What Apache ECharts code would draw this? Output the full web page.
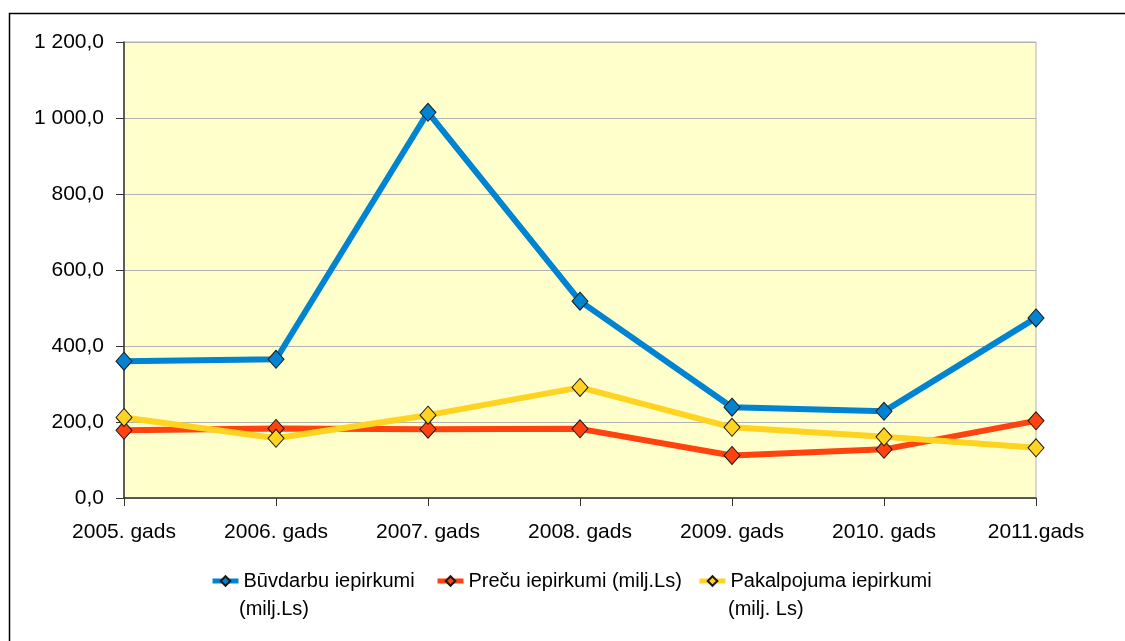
<!DOCTYPE html>
<html>
<head>
<meta charset="utf-8">
<script src="https://cdn.jsdelivr.net/npm/echarts@6/dist/echarts.min.js"></script>
<style>
  html, body { margin: 0; padding: 0; background: #fff; }
  #chart { width: 1125px; height: 641px; }
</style>
</head>
<body>
<div id="chart"></div>
<script>
// gadi
var categories = ['2005. gads', '2006. gads', '2007. gads', '2008. gads', '2009. gads', '2010. gads', '2011.gads']
var seriesNames = ['Būvdarbu iepirkumi', 'Preču iepirkumi (milj.Ls)', 'Pakalpojuma iepirkumi']
var buvdarbi = [360, 365, 1015, 518, 239, 228, 474]
var preces = [178, 183, 181, 182, 112, 128, 203]
var pakalpojumi = [212, 157, 218, 291, 186, 161, 132]
var yTicks = { min: 0, max: 1200, step: 200 }

var colors = ['#0084d1', '#ff420e', '#ffd320']
var font = 'Liberation Sans, Arial, sans-serif'

// 1 200,0
function fmt (v) {
  var s = v.toFixed(1).replace('.', ',')
  var parts = s.split(',')
  parts[0] = parts[0].replace(/\B(?=(\d{3})+(?!\d))/g, ' ')
  return parts.join(',')
}

function makeSeries (name, data, color) {
  return {
    name: name,
    type: 'line',
    data: data,
    symbol: 'diamond',
    symbolSize: [16, 18],
    lineStyle: { color: color, width: 6 },
    itemStyle: { color: color, borderColor: '#1a1a1a', borderWidth: 1 },
    emphasis: { disabled: true },
    animation: false
  }
}

function makeLegend (name, left) {
  return {
    data: [name],
    left: left,
    top: 571,
    padding: 0,
    itemWidth: 26,
    itemHeight: 12,
    itemGap: 0,
    lineStyle: { width: 5 },
    textStyle: { fontFamily: font, fontSize: 20, color: '#000' }
  }
}

var chart = echarts.init(document.getElementById('chart'))
chart.setOption({
  backgroundColor: '#fff',
  animation: false,
  grid: {
    left: 124, right: 89, top: 42, bottom: 143,
    show: true,
    backgroundColor: '#ffffcc',
    borderColor: '#b3b3b3',
    borderWidth: 1
  },
  legend: [
    makeLegend(seriesNames[0], 210),
    makeLegend(seriesNames[1], 435),
    makeLegend(seriesNames[2], 697)
  ],
  xAxis: {
    type: 'category',
    data: categories,
    boundaryGap: false,
    axisLine: { lineStyle: { color: '#333', width: 1.5 } },
    axisTick: { show: true, length: 8, lineStyle: { color: '#333' } },
    axisLabel: { fontFamily: font, fontSize: 21, color: '#000', margin: 24 },
    splitLine: { show: false }
  },
  yAxis: {
    type: 'value',
    min: yTicks.min,
    max: yTicks.max,
    interval: yTicks.step,
    axisLine: { show: true, lineStyle: { color: '#333', width: 1.5 } },
    axisTick: { show: true, length: 8, lineStyle: { color: '#333' } },
    axisLabel: { fontFamily: font, fontSize: 21, color: '#000', margin: 20, formatter: fmt },
    splitLine: { lineStyle: { color: '#b3b3b3', width: 1 } }
  },
  graphic: [
    { type: 'rect', left: 7, top: 11, shape: { width: 1300, height: 800 }, style: { fill: null, stroke: '#000', lineWidth: 1.5 }, silent: true },
    { type: 'text', left: 239, top: 599, style: { text: '(milj.Ls)', font: '20px ' + font, fill: '#000' } },
    { type: 'text', left: 728, top: 599, style: { text: '(milj. Ls)', font: '20px ' + font, fill: '#000' } }
  ],
  series: [
    makeSeries(seriesNames[0], buvdarbi, colors[0]),
    makeSeries(seriesNames[1], preces, colors[1]),
    makeSeries(seriesNames[2], pakalpojumi, colors[2])
  ]
})
</script>
</body>
</html>
